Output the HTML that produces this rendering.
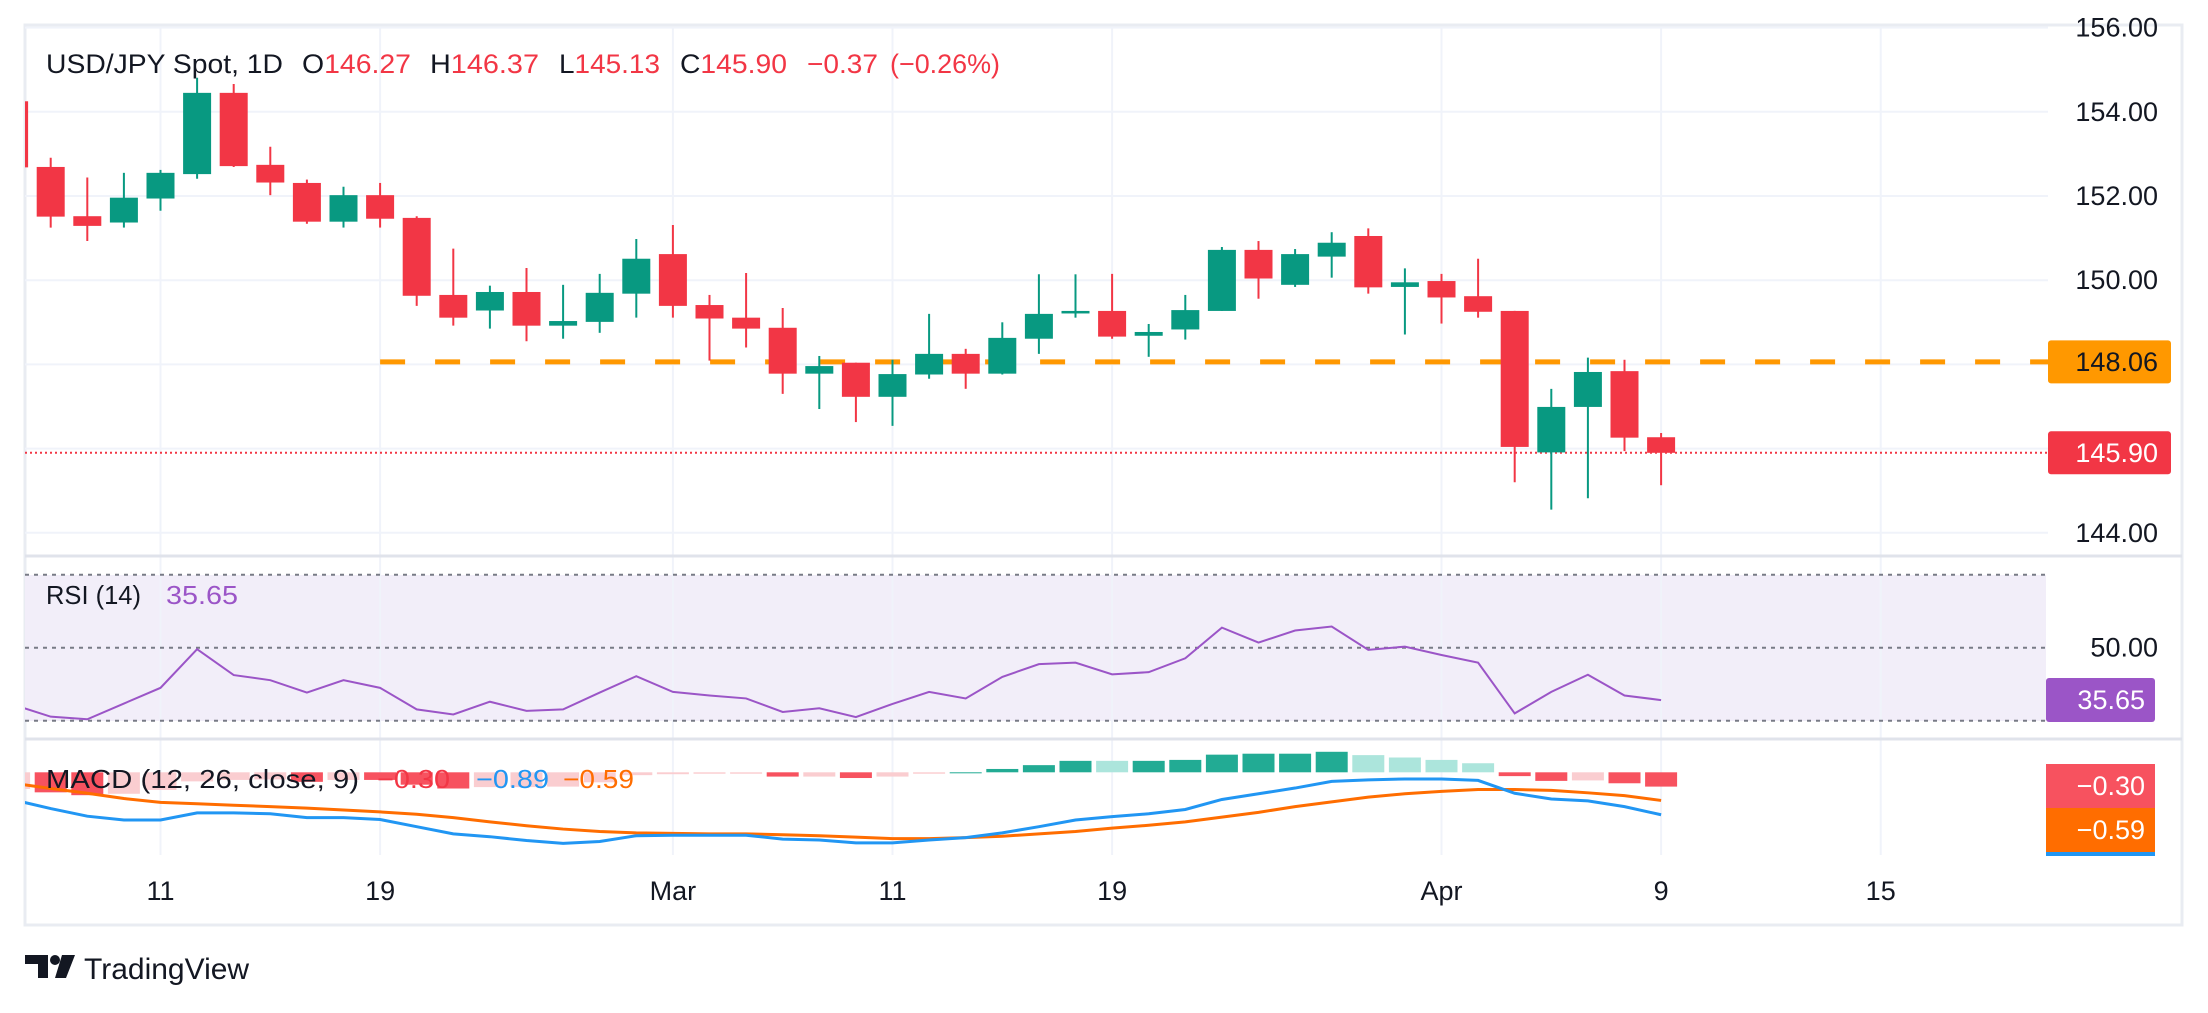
<!DOCTYPE html>
<html><head><meta charset="utf-8"><style>
html,body{margin:0;padding:0;background:#fff;}
svg{display:block;font-family:"Liberation Sans",sans-serif;}
</style></head><body>
<svg id="c" width="2208" height="1013" viewBox="0 0 2208 1013" xmlns="http://www.w3.org/2000/svg">
<rect x="0" y="0" width="2208" height="1013" fill="#fff"/>
<rect x="25" y="25" width="2157" height="900" fill="none" stroke="#e9ecf2" stroke-width="3"/>
<rect x="25" y="575" width="2021" height="146" fill="#f2eef9"/>
<g id="grid"></g><g id="marks"></g><g id="labels"></g>
<line x1="25" y1="556" x2="2182" y2="556" stroke="#e0e3eb" stroke-width="3"/>
<line x1="25" y1="739" x2="2182" y2="739" stroke="#e0e3eb" stroke-width="3"/>
<g font-size="27">
<text x="46" y="73" fill="#131722" textLength="237" lengthAdjust="spacingAndGlyphs">USD/JPY Spot, 1D</text>
<text x="302" y="73" fill="#131722" textLength="109" lengthAdjust="spacingAndGlyphs">O<tspan fill="#f23645">146.27</tspan></text>
<text x="430" y="73" fill="#131722" textLength="109" lengthAdjust="spacingAndGlyphs">H<tspan fill="#f23645">146.37</tspan></text>
<text x="559" y="73" fill="#131722" textLength="101" lengthAdjust="spacingAndGlyphs">L<tspan fill="#f23645">145.13</tspan></text>
<text x="680" y="73" fill="#131722" textLength="107" lengthAdjust="spacingAndGlyphs">C<tspan fill="#f23645">145.90</tspan></text>
<text x="807" y="73" fill="#f23645" textLength="71" lengthAdjust="spacingAndGlyphs">−0.37</text>
<text x="890" y="73" fill="#f23645" textLength="110" lengthAdjust="spacingAndGlyphs">(−0.26%)</text>
</g>
<g font-size="26">
<text x="46" y="604" fill="#131722" textLength="95" lengthAdjust="spacingAndGlyphs">RSI (14)</text>
<text x="166" y="604" fill="#9b55c7" textLength="72" lengthAdjust="spacingAndGlyphs">35.65</text>
</g>
<g font-size="26">
<text x="46" y="788" fill="#131722" textLength="313" lengthAdjust="spacingAndGlyphs">MACD (12, 26, close, 9)</text>
<text x="377" y="788" fill="#f23645" textLength="73" lengthAdjust="spacingAndGlyphs">−0.30</text>
<text x="476" y="788" fill="#2196f3" textLength="73" lengthAdjust="spacingAndGlyphs">−0.89</text>
<text x="563" y="788" fill="#ff6d00" textLength="71" lengthAdjust="spacingAndGlyphs">−0.59</text>
</g>
<g>
<path d="M25 955 H48 V978 H38 V964 H25 Z" fill="#131722"/><circle cx="55" cy="960" r="5" fill="#131722"/><path d="M62 955 H75 L66 978 H55 Z" fill="#131722"/>
<text x="84" y="979" font-size="30" fill="#131722">TradingView</text></g>
</svg>
<script>
const cats=[-1,0,1,2,3,4,5,6,7,8,9,10,11,12,13,14,15,16,17,18,19,20,21,22,23,24,25,26,27,28,29,30,31,32,33,34,35,36,37,38,39,40,41,42,43,44];
const opens=[154.25,152.69,151.52,151.37,151.94,152.52,154.45,152.74,152.31,151.39,152.02,151.48,149.65,149.28,149.72,148.92,149.01,149.68,150.62,149.41,149.11,148.87,147.78,148.04,147.23,147.76,148.25,147.78,148.61,149.21,149.27,148.68,148.83,149.27,150.72,149.89,150.56,151.05,149.84,149.98,149.62,149.27,145.91,146.99,147.84,146.27];
const highs=[154.3,152.91,152.44,152.55,152.62,154.81,154.66,153.17,152.39,152.22,152.31,151.52,150.75,149.87,150.29,149.89,150.15,150.98,151.31,149.65,150.17,149.34,148.2,148.04,148.11,149.2,148.37,149.0,150.14,150.14,150.15,148.96,149.65,150.79,150.93,150.74,151.14,151.23,150.28,150.15,150.51,149.27,147.42,148.16,148.11,146.37];
const lows=[152.6,151.25,150.93,151.25,151.65,152.41,152.69,152.02,151.34,151.25,151.25,149.39,148.92,148.85,148.55,148.61,148.75,149.11,149.11,148.09,148.4,147.3,146.94,146.63,146.54,147.66,147.42,147.76,148.25,149.11,148.61,148.18,148.59,149.27,149.56,149.84,150.06,149.68,148.71,148.97,149.11,145.2,144.55,144.82,145.94,145.13];
const closes=[152.68,151.51,151.29,151.96,152.55,154.45,152.71,152.32,151.39,152.02,151.46,149.63,149.11,149.72,148.92,149.03,149.7,150.51,149.39,149.09,148.85,147.78,147.96,147.23,147.77,148.25,147.78,148.63,149.2,149.27,148.66,148.77,149.29,150.72,150.04,150.62,150.89,149.83,149.95,149.59,149.25,146.04,146.99,147.82,146.26,145.9];
const rsi=[34.3,31.1,30.4,34.7,39.0,49.6,42.5,41.1,37.7,41.1,39.0,33.1,31.7,35.2,32.7,33.1,37.7,42.2,37.9,36.9,36.1,32.4,33.4,31.0,34.6,37.9,36.1,42.0,45.5,45.9,42.7,43.3,47.1,55.5,51.4,54.7,55.8,49.4,50.3,48.0,45.9,32.0,37.9,42.6,36.9,35.65];
const macd=[-0.58,-0.76,-0.92,-1.0,-1.0,-0.85,-0.85,-0.87,-0.95,-0.95,-0.99,-1.14,-1.29,-1.35,-1.43,-1.49,-1.45,-1.33,-1.32,-1.32,-1.32,-1.40,-1.42,-1.48,-1.48,-1.42,-1.37,-1.27,-1.14,-1.0,-0.93,-0.87,-0.78,-0.57,-0.45,-0.33,-0.19,-0.16,-0.14,-0.14,-0.17,-0.44,-0.56,-0.60,-0.72,-0.89];
const signal=[-0.23,-0.34,-0.44,-0.55,-0.63,-0.66,-0.69,-0.72,-0.75,-0.79,-0.83,-0.88,-0.95,-1.04,-1.12,-1.19,-1.24,-1.27,-1.28,-1.29,-1.29,-1.31,-1.33,-1.36,-1.39,-1.39,-1.37,-1.34,-1.29,-1.24,-1.17,-1.11,-1.04,-0.94,-0.84,-0.72,-0.62,-0.52,-0.45,-0.40,-0.36,-0.36,-0.38,-0.43,-0.49,-0.59];
const tickIdx=[3,9,17,23,29,38,44,50];
const tickLabels=["11","19","Mar","11","19","Apr","9","15"];
const priceTicks=[156,154,152,150,148,146,144];
const priceTickLabels=["156.00","154.00","152.00","150.00","","","144.00"];
const lastPrice=145.90, supportLevel=148.06;

const NS="http://www.w3.org/2000/svg";
const X=i=>50.7+36.6*i;
const Y=p=>111.8+(154-p)*42.1;
const YR=v=>647.7+(50-v)*3.65;
const YM=v=>772.3-v*47.7;
function mk(parent,tag,attrs){const e=document.createElementNS(NS,tag);for(const k in attrs)e.setAttribute(k,attrs[k]);document.getElementById(parent).appendChild(e);return e;}
priceTicks.forEach(p=>{const e=mk('grid','line',{x1:25,x2:2048,y1:Y(p),y2:Y(p),stroke:'#f0f3fa','stroke-width':2});

});
tickIdx.forEach(i=>{const e=mk('grid','line',{x1:X(i),x2:X(i),y1:27,y2:855,stroke:'#f0f3fa','stroke-width':2});

});
const defs=mk('marks','defs',{});
const cp=document.createElementNS(NS,'clipPath');cp.setAttribute('id','cl');defs.appendChild(cp);
const cr=document.createElementNS(NS,'rect');cr.setAttribute('x',25);cr.setAttribute('y',25);cr.setAttribute('width',2023);cr.setAttribute('height',900);cp.appendChild(cr);
const g=mk('marks','g',{'clip-path':'url(#cl)',id:'mg'});
[70,50,30].forEach(v=>{const e=mk('mg','line',{x1:25,x2:2046,y1:YR(v),y2:YR(v),stroke:'#787b86','stroke-width':2,'stroke-dasharray':'4 5'});

});
let e=mk('mg','line',{x1:25,x2:2048,y1:Y(lastPrice),y2:Y(lastPrice),stroke:'#f23645','stroke-width':2,'stroke-dasharray':'2 3'});


e=mk('mg','line',{x1:X(9),x2:2048,y1:Y(supportLevel),y2:Y(supportLevel),stroke:'#ff9800','stroke-width':5,'stroke-dasharray':'25 30'});


cats.forEach((c,k)=>{const o=opens[k],h=highs[k],l=lows[k],cl=closes[k];const col=cl>=o?'#089981':'#f23645';const x=X(c);
const w=mk('mg','line',{x1:x,x2:x,y1:Y(h),y2:Y(l),stroke:col,'stroke-width':2});


const t=Math.min(Y(o),Y(cl)),hh=Math.max(2,Math.abs(Y(o)-Y(cl)));
const b=mk('mg','rect',{x:x-14,y:t,width:28,height:hh,fill:col});

});
e=mk('mg','polyline',{points:cats.map((c,k)=>X(c)+','+YR(rsi[k])).join(' '),fill:'none',stroke:'#9b55c7','stroke-width':2});


cats.forEach((c,k)=>{const hv=macd[k]-signal[k];const pv=k>0?macd[k-1]-signal[k-1]:hv;let col;
if(hv>=0)col=hv>=pv?'#22ab94':'#ace5dc';else col=hv<pv?'#f7525f':'#facdd0';
const y0=YM(0),y1=YM(hv);const r=mk('mg','rect',{x:X(c)-16,y:Math.min(y0,y1),width:32,height:Math.max(1,Math.abs(y1-y0)),fill:col});

});
e=mk('mg','polyline',{points:cats.map((c,k)=>X(c)+','+YM(signal[k])).join(' '),fill:'none',stroke:'#ff6d00','stroke-width':3});


e=mk('mg','polyline',{points:cats.map((c,k)=>X(c)+','+YM(macd[k])).join(' '),fill:'none',stroke:'#2196f3','stroke-width':3});


function txt(x,y,s,col,name,anchor){const t=mk('labels','text',{x:x,y:y,'font-size':27,fill:col,'text-anchor':anchor||'end','dominant-baseline':'central'});t.textContent=s;

return t;}
priceTicks.forEach((p,k)=>{if(priceTickLabels[k])txt(2158,Y(p),priceTickLabels[k],'#131722','price-tick-label');});
function box(y,h,col,s,name){const r=mk('labels','rect',{x:2048,y:y-h/2,width:123,height:h,rx:3,fill:col});


txt(2158,y,s,name==='support-price'?'#131722':'#fff',name+'-label');}
box(Y(supportLevel),43,'#ff9800',supportLevel.toFixed(2),'support-price');
box(Y(lastPrice),43,'#f23645',lastPrice.toFixed(2),'last-price');
txt(2158,YR(50),'50.00','#131722','rsi-tick-label');
const rb=mk('labels','rect',{x:2046,y:678,width:109,height:44,rx:3,fill:'#9b55c7'});


txt(2145,700,rsi[rsi.length-1].toFixed(2),'#fff','rsi-value-label');
const mb1=mk('labels','rect',{x:2046,y:764,width:109,height:44,fill:'#f7525f'});


txt(2145,786,'−0.30','#fff','hist-value-label');
const mb2=mk('labels','rect',{x:2046,y:808,width:109,height:44,fill:'#ff6d00'});


txt(2145,830,'−0.59','#fff','signal-value-label');
const mb3=mk('labels','rect',{x:2046,y:852,width:109,height:4,fill:'#2196f3'});


tickIdx.forEach((i,k)=>txt(X(i),891,tickLabels[k],'#131722','time-tick-label','middle'));
</script>
</body></html>
